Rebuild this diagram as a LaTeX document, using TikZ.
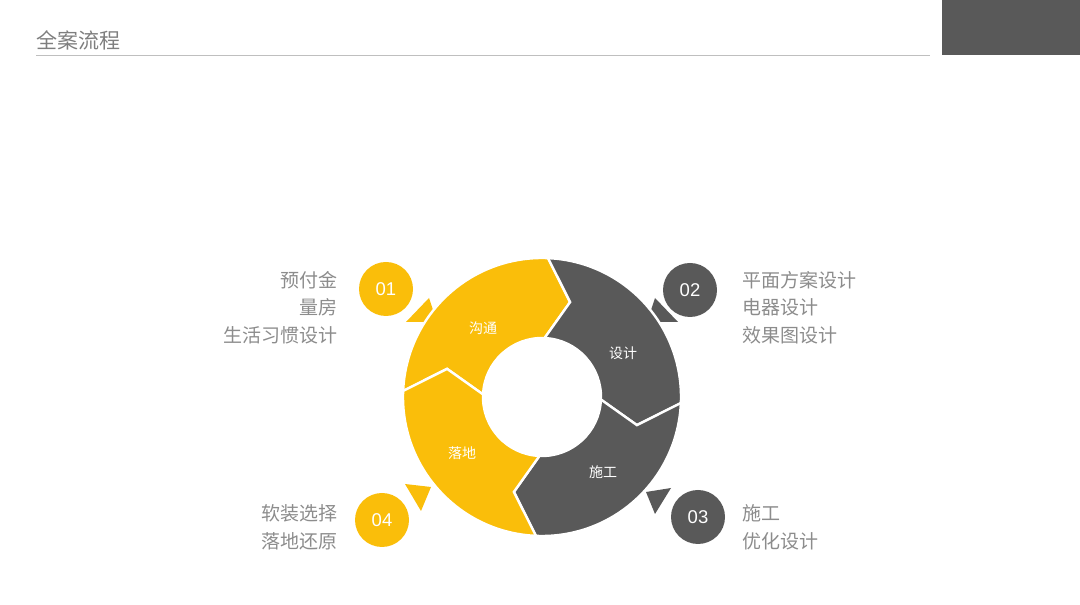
\documentclass[tikz,border=0pt]{standalone}
\usepackage{fontspec}
\setmainfont{Liberation Sans}
\newfontfamily\cjk{Noto Sans CJK SC}
\usetikzlibrary{calc}
\definecolor{amber}{RGB}{250,190,10}
\definecolor{slate}{RGB}{89,89,89}
\definecolor{note}{RGB}{140,140,140}
\newcommand{\segm}[2]{\fill[#2, draw=white, line width=2.4pt] ($(O)+( #1 :139)$) arc[start angle= #1 , end angle= #1 -90, radius=139] -- ($(O)+( #1 -104:99)$) -- ($(O)+( #1 -90:59)$) arc[start angle= #1 -90, end angle= #1 , radius=59] -- ($(O)+( #1 -14:99)$) -- cycle;}
\newcommand{\lablring}[4]{\node[shape=rectangle, inner sep=0pt, text=white, font=\cjk\fontsize{14}{16}\selectfont] ( #4 ) at ( #1 , #2 ) {#3};}
\newcommand{\lablcirc}[5]{\node[shape=circle, fill=#3, inner sep=0pt, minimum size=54pt, text=white, font=\fontsize{18.5}{20}\selectfont] ( #5 ) at ( #1 , #2 ) {#4};}
\tikzset{notes/.style={inner sep=0pt, text=note, font=\cjk\fontsize{19}{27.5}\selectfont}}

\begin{document}
\begin{tikzpicture}[x=1pt, y=1pt]
        \useasboundingbox (0,0) rectangle (1080,605);
        % header
        \node[anchor=west, inner sep=0pt, text=note!90!black, font=\cjk\fontsize{21}{24}\selectfont] (title) at (36,565) {全案流程};
        \draw[black!25, line width=0.7pt] (36,550) -- (930,550);
        \fill[slate] (942,550) rectangle (1080,605);

        \coordinate (O) at (542,208);

        % pointers
        \fill[amber] (406,283) -- (429,307) -- (437,283) -- cycle;
        \fill[slate] (678,283) -- (655,307) -- (647,283) -- cycle;
        \fill[slate] (646,113) -- (671,117) -- (655,91) -- cycle;
        \fill[amber] (405,121) -- (431,118) -- (421,94) -- cycle;

        % ring
        \segm{177.5}{amber}
        \segm{87.5}{slate}
        \segm{-2.5}{slate}
        \segm{-92.5}{amber}

        \lablring{483}{277}{沟通}{gt}
        \lablring{623}{252}{设计}{sj}
        \lablring{603}{133}{施工}{sg}
        \lablring{462}{152}{落地}{ld}

        % steps
        \lablcirc{386}{316}{amber}{01}{n1}
        \lablcirc{690}{315}{slate}{02}{n2}
        \lablcirc{698}{88}{slate}{03}{n3}
        \lablcirc{382}{85}{amber}{04}{n4}

        \node[notes, anchor=east, align=right] (t1) at (338,297.5) {预付金\\量房\\生活习惯设计};
        \node[notes, anchor=west, align=left] (t2) at (742,297.5) {平面方案设计\\电器设计\\效果图设计};
        \node[notes, anchor=west, align=left] (t3) at (742,77.5) {施工\\优化设计};
        \node[notes, anchor=east, align=right] (t4) at (338,77.5) {软装选择\\落地还原};
    \end{tikzpicture}
\end{document}
